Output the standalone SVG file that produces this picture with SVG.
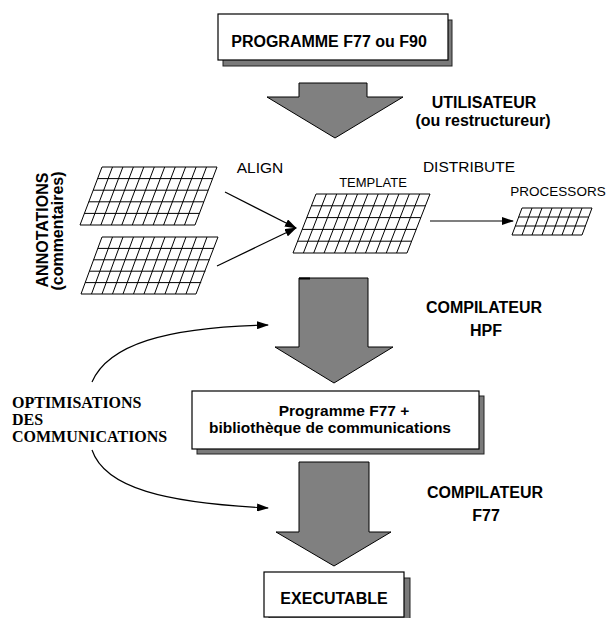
<svg xmlns="http://www.w3.org/2000/svg" width="607" height="618" viewBox="0 0 607 618">
<defs>
<marker id="ah" markerWidth="12" markerHeight="8" refX="11" refY="4" orient="auto" markerUnits="userSpaceOnUse">
<path d="M0,0 L12,4 L0,8 Z" fill="#000"/>
</marker>
</defs>
<style>
.b{font-family:"Liberation Sans",Arial,sans-serif;font-weight:bold;font-size:16px;fill:#000}
.r{font-family:"Liberation Sans",Arial,sans-serif;font-size:15.5px;fill:#000}
.s{font-family:"Liberation Serif","Times New Roman",serif;font-weight:bold;font-size:16px;fill:#000}
.box{fill:#fff;stroke:#000;stroke-width:1.2}
.sh{fill:#7a7a7a;stroke:#222;stroke-width:1}
.arr{fill:#808080;stroke:#000;stroke-width:1}
.g{fill:#fff;stroke:#000;stroke-width:1}
.ln{fill:none;stroke:#000;stroke-width:1.2}
</style>
<rect width="607" height="618" fill="#fff"/>

<g id="prog">
<rect class="sh" x="223" y="20" width="229" height="46"/>
<rect class="box" x="218" y="14" width="230" height="46"/>
<text class="b" x="329" y="47" text-anchor="middle">PROGRAMME F77 ou F90</text>
</g>

<g id="arrow1">
<path class="arr" d="M299,83 L367,83 L367,97 L403,97 L335,138 L267,97 L299,97 Z"/>
</g>
<g id="utilisateur">
<text class="b" x="484" y="108" text-anchor="middle">UTILISATEUR</text>
<text class="b" x="483" y="126" text-anchor="middle">(ou restructureur)</text>
</g>

<g id="annotations">
<text class="b" transform="translate(48,230) rotate(-90)" text-anchor="middle">ANNOTATIONS</text>
<text class="b" transform="translate(63,231) rotate(-90)" text-anchor="middle">(commentaires)</text>
</g>

<g id="grid1">
<path class="g" d="M102,167 L217,167 L195,225 L80,225 Z"/>
<path class="g" d="M97.6,178.6 h115 M93.2,190.2 h115 M88.8,201.8 h115 M84.4,213.4 h115
M112.5,167 L90.5,225 M122.9,167 L100.9,225 M133.4,167 L111.4,225 M143.8,167 L121.8,225 M154.3,167 L132.3,225 M164.7,167 L142.7,225 M175.2,167 L153.2,225 M185.6,167 L163.6,225 M196.1,167 L174.1,225 M206.5,167 L184.5,225"/>
</g>

<g id="grid2">
<path class="g" d="M102,237 L218,237 L196,294 L81,294 Z"/>
<path class="g" d="M97.8,248.4 h116 M93.6,259.8 h116 M89.4,271.2 h116 M85.2,282.6 h116
M112.5,237 L91.5,294 M123,237 L102,294 M133.5,237 L112.5,294 M144,237 L123,294 M154.5,237 L133.5,294 M165,237 L144,294 M175.5,237 L154.5,294 M186,237 L165,294 M196.5,237 L175.5,294 M207,237 L186,294"/>
</g>

<g id="template">
<text class="r" x="373" y="187" text-anchor="middle" style="font-size:13px">TEMPLATE</text>
<path class="g" d="M316,194 L430,194 L407,253 L293,253 Z"/>
<path class="g" d="M311.4,205.8 h114 M306.8,217.6 h114 M302.2,229.4 h114 M297.6,241.2 h114
M326.4,194 L303.4,253 M336.7,194 L313.7,253 M347.1,194 L324.1,253 M357.5,194 L334.5,253 M367.8,194 L344.8,253 M378.2,194 L355.2,253 M388.5,194 L365.5,253 M398.9,194 L375.9,253 M409.3,194 L386.3,253 M419.6,194 L396.6,253"/>
</g>

<g id="processors">
<text class="r" x="558" y="196" text-anchor="middle" style="font-size:13.5px">PROCESSORS</text>
<path class="g" d="M522,208 L592,208 L582,235 L512,235 Z"/>
<path class="g" d="M518.7,217 h70 M515.3,226 h70
M532,208 L522,235 M542,208 L532,235 M552,208 L542,235 M562,208 L552,235 M572,208 L562,235 M582,208 L572,235"/>
</g>

<g id="labels">
<text class="r" x="260" y="173" text-anchor="middle">ALIGN</text>
<text class="r" x="469" y="172" text-anchor="middle">DISTRIBUTE</text>
</g>

<g id="connectors">
<line class="ln" x1="225" y1="192" x2="296" y2="228" marker-end="url(#ah)"/>
<line class="ln" x1="217" y1="266" x2="296" y2="228" marker-end="url(#ah)"/>
<line class="ln" x1="430" y1="221" x2="513" y2="221" marker-end="url(#ah)"/>
<path class="ln" d="M92,382 C108,345 165,327 268,325" marker-end="url(#ah)"/>
<path class="ln" d="M92,450 C105,488 165,503 268,508" marker-end="url(#ah)"/>
</g>

<g id="arrow2">
<path class="arr" d="M299,278 L368,278 L368,347 L393,347 L334,383 L275,347 L299,347 Z"/>
<line x1="299" y1="278.5" x2="310" y2="278.5" stroke="#000" stroke-width="2"/>
</g>
<g id="hpf">
<text class="b" x="484" y="313" text-anchor="middle">COMPILATEUR</text>
<text class="b" x="486" y="336" text-anchor="middle">HPF</text>
</g>

<g id="optim">
<text class="s" x="12" y="408">OPTIMISATIONS</text>
<text class="s" x="12" y="425">DES</text>
<text class="s" x="12" y="442">COMMUNICATIONS</text>
</g>

<g id="prog2">
<rect class="sh" x="197" y="396" width="287" height="58"/>
<rect class="box" x="192" y="391" width="287" height="58"/>
<text class="b" x="344" y="416" text-anchor="middle" style="font-size:15.5px">Programme F77 +</text>
<text class="b" x="330" y="433" text-anchor="middle" style="font-size:15.5px">bibliothèque de communications</text>
</g>

<g id="arrow3">
<path class="arr" d="M299,462 L369,462 L369,532 L391,532 L334,566 L276,532 L299,532 Z"/>
</g>
<g id="f77">
<text class="b" x="485" y="498" text-anchor="middle">COMPILATEUR</text>
<text class="b" x="486" y="521" text-anchor="middle">F77</text>
</g>

<g id="exec">
<rect class="sh" x="269" y="578" width="141" height="45"/>
<rect class="box" x="264" y="572" width="140" height="45"/>
<text class="b" x="334" y="604" text-anchor="middle">EXECUTABLE</text>
</g>
</svg>
